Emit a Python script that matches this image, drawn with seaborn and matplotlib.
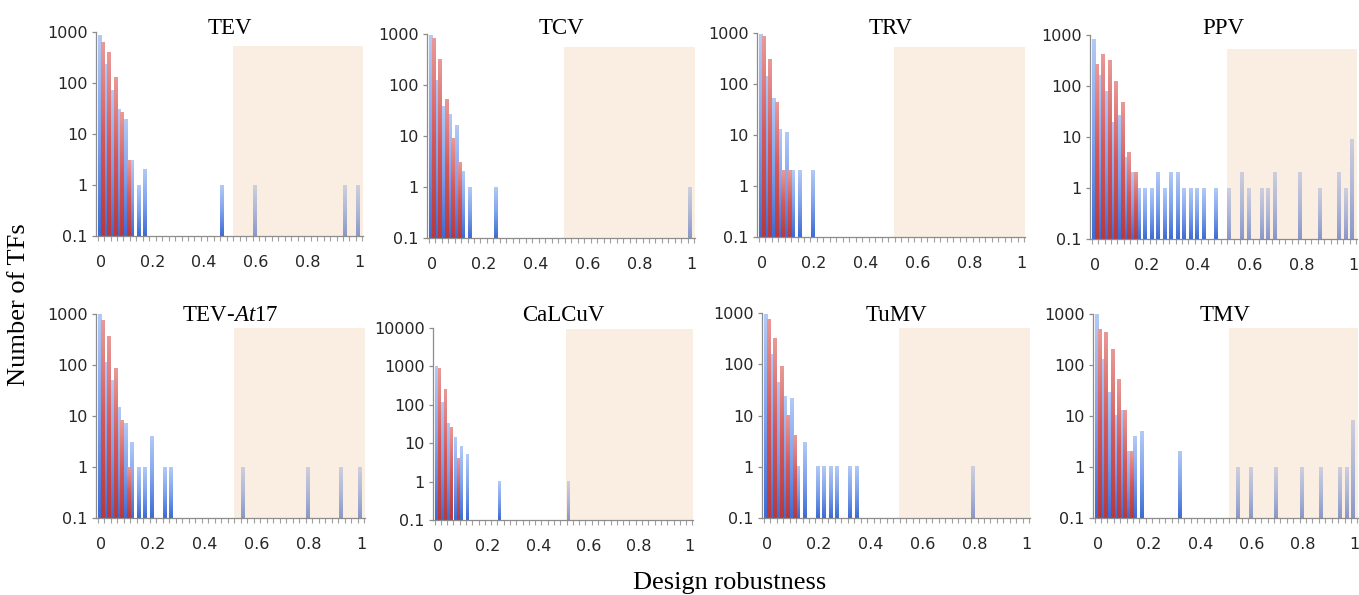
import numpy as np
import pandas as pd
import matplotlib
matplotlib.use("Agg")
import matplotlib.pyplot as plt
import seaborn as sns
from matplotlib.image import BboxImage
from matplotlib.transforms import Bbox, TransformedBbox
from matplotlib.colors import LinearSegmentedColormap, Normalize

# ---------------- data (41 robustness bins: 0, 0.025, ..., 1) ----------------
robustness = [f"{v:g}" for v in np.round(np.arange(41) * 0.025, 3)]

tev_blue = [850, 230, 72, 30, 19, 3, 1, 2, 0, 0, 0, 0, 0, 0, 0, 0, 0, 0, 0, 1,
            0, 0, 0, 0, 1, 0, 0, 0, 0, 0, 0, 0, 0, 0, 0, 0, 0, 0, 1, 0, 1]
tev_red = [636, 405, 127, 27, 3] + [0] * 36

tcv_blue = [950, 125, 38, 26, 16, 2, 1, 0, 0, 0, 1, 0, 0, 0, 0, 0, 0, 0, 0, 0,
            0, 0, 0, 0, 0, 0, 0, 0, 0, 0, 0, 0, 0, 0, 0, 0, 0, 0, 0, 0, 1]
tcv_red = [820, 310, 51, 9, 3] + [0] * 36

trv_blue = [950, 140, 51, 13, 11, 2, 2, 0, 2, 0, 0, 0, 0, 0, 0, 0, 0, 0, 0, 0,
            0, 0, 0, 0, 0, 0, 0, 0, 0, 0, 0, 0, 0, 0, 0, 0, 0, 0, 0, 0, 0]
trv_red = [860, 300, 43, 2, 2] + [0] * 36

ppv_blue = [820, 160, 78, 19, 26, 4, 2, 1, 1, 1, 2, 1, 2, 2, 1, 1, 1, 1, 0, 1,
            0, 1, 0, 2, 1, 0, 1, 1, 2, 0, 0, 0, 2, 0, 0, 1, 0, 0, 2, 1, 9]
ppv_red = [260, 410, 310, 125, 48, 5, 2] + [0] * 34

at17_blue = [980, 110, 50, 15, 7, 3, 1, 1, 4, 0, 1, 1, 0, 0, 0, 0, 0, 0, 0, 0,
             0, 0, 1, 0, 0, 0, 0, 0, 0, 0, 0, 0, 1, 0, 0, 0, 0, 1, 0, 0, 1]
at17_red = [740, 360, 85, 8, 1] + [0] * 36

calcuv_blue = [980, 115, 32, 14, 8, 5, 0, 0, 0, 0, 1, 0, 0, 0, 0, 0, 0, 0, 0, 0,
               0, 1, 0, 0, 0, 0, 0, 0, 0, 0, 0, 0, 0, 0, 0, 0, 0, 0, 0, 0, 0]
calcuv_red = [900, 245, 25, 4] + [0] * 37

tumv_blue = [930, 155, 45, 24, 21, 1, 3, 0, 1, 1, 1, 1, 0, 1, 1, 0, 0, 0, 0, 0,
             0, 0, 0, 0, 0, 0, 0, 0, 0, 0, 0, 0, 1, 0, 0, 0, 0, 0, 0, 0, 0]
tumv_red = [760, 315, 89, 10, 4] + [0] * 36

tmv_blue = [1000, 130, 29, 10, 13, 2, 4, 5, 0, 0, 0, 0, 0, 2, 0, 0, 0, 0, 0, 0,
            0, 0, 1, 0, 1, 0, 0, 0, 1, 0, 0, 0, 1, 0, 0, 1, 0, 0, 1, 1, 8]
tmv_red = [500, 430, 205, 51, 13, 2] + [0] * 35

titles = ["TEV", "TCV", "TRV", "PPV", "TEV-$\\mathit{At}$17", "CaLCuV", "TuMV", "TMV"]
blues = [tev_blue, tcv_blue, trv_blue, ppv_blue, at17_blue, calcuv_blue, tumv_blue, tmv_blue]
reds = [tev_red, tcv_red, trv_red, ppv_red, at17_red, calcuv_red, tumv_red, tmv_red]
y_tops = [1000, 1000, 1000, 1000, 1000, 10000, 1000, 1000]
x_tick_labels = ["0", "0.2", "0.4", "0.6", "0.8", "1"]

# ---------------- style ----------------
sns.set_theme(style="white")
plt.rcParams["font.family"] = ["DejaVu Sans"]
plt.rcParams["mathtext.fontset"] = "custom"
plt.rcParams["mathtext.rm"] = "Liberation Serif"
plt.rcParams["mathtext.it"] = "Liberation Serif:italic"

W, H = 1359, 595
fig = plt.figure(figsize=(W / 100, H / 100), dpi=100)
fig.patch.set_facecolor("white")

# axes boxes in pixels: left, right, top, bottom
boxes = [(96, 363, 32, 236), (427, 695, 34, 238), (757, 1025, 33, 237), (1090, 1357, 35, 239),
         (96, 365, 314, 518), (433, 693, 328, 520), (762, 1030, 313, 518), (1093, 1358, 314, 518)]
title_base = [34, 34, 34, 34, 321, 321, 321, 321]
shade_frac = [0.93, 0.935, 0.93, 0.93, 0.933, 0.995, 0.927, 0.933]

blue_cmap = LinearSegmentedColormap.from_list("bl", ["#3d6bd3", "#7fa2ec", "#b3caf6"])
red_cmap = LinearSegmentedColormap.from_list("rd", ["#b63a3d", "#d2585a", "#e99a98"])
grad = np.linspace(0, 1, 256).reshape(-1, 1)
axis_gray = "#8c8c8c"

for k in range(8):
    l, r, t, b = boxes[k]
    ax = fig.add_axes([l / W, 1 - b / H, (r - l) / W, (b - t) / H])
    df = pd.DataFrame({
        "robustness": robustness * 2,
        "count": list(blues[k]) + list(reds[k]),
        "series": ["TFs"] * 41 + ["Designs"] * 41,
    })
    sns.barplot(data=df, x="robustness", y="count", hue="series", order=robustness,
                hue_order=["TFs", "Designs"], palette=["#7fa2ec", "#d2585a"],
                width=0.94, saturation=1, linewidth=0, legend=False, ax=ax, zorder=2)
    ax.set_yscale("log")
    ymax = y_tops[k]
    ax.set_ylim(0.1, ymax)
    ax.set_xlim(-0.75, 40.6)

    # gradient fill for each bar
    for cont, cmap in zip(ax.containers, [blue_cmap, red_cmap]):
        for p in cont.patches:
            h = p.get_height()
            if not np.isfinite(h) or h <= 0.1:
                continue
            x0 = p.get_x()
            x1 = x0 + p.get_width()
            tb = TransformedBbox(Bbox([[x0, 0.1], [x1, h]]), ax.transData)
            im = BboxImage(tb, cmap=cmap, norm=Normalize(0, 1), interpolation="bilinear",
                           origin="lower")
            im.set_data(grad)
            im.set_zorder(2.5)
            im.set_clip_path(ax.patch)
            ax.add_artist(im)

    # shaded region (robustness > 0.5)
    ax.axvspan(20.4, 40.6, ymin=0, ymax=shade_frac[k], color="#f4d6bb", alpha=0.42,
               lw=0, zorder=4)

    # axes styling
    for s in ["top", "right"]:
        ax.spines[s].set_visible(False)
    for s in ["left", "bottom"]:
        ax.spines[s].set_color(axis_gray)
        ax.spines[s].set_linewidth(0.9)
        ax.spines[s].set_zorder(6)
    yt = [0.1, 1, 10, 100, 1000] + ([10000] if ymax > 1000 else [])
    ax.set_yticks(yt)
    ax.set_yticklabels([f"{v:g}" for v in yt])
    ax.yaxis.set_minor_locator(matplotlib.ticker.NullLocator())
    ax.tick_params(axis="y", which="major", direction="out", length=3, width=0.9,
                   color=axis_gray, pad=3, labelsize=11.5, left=True)
    ax.set_xticks([0, 8, 16, 24, 32, 40])
    ax.set_xticklabels(x_tick_labels)
    ax.set_xticks(np.arange(-0.5, 41, 1.0), minor=True)
    ax.tick_params(axis="x", which="major", length=0, pad=14, labelsize=11.5)
    ax.tick_params(axis="x", which="minor", direction="out", length=3.5, width=0.8,
                   color="#a0a0a0", bottom=True)
    ax.set_xlabel("")
    ax.set_ylabel("")
    ax.set_facecolor("white")

    fig.text((l + r) / 2 / W, 1 - title_base[k] / H, titles[k], ha="center", va="baseline",
             family="Liberation Serif", fontsize=16.5, color="black")

fig.text(19 / W, 1 - 305 / H, "Number of TFs", rotation=90, ha="center", va="center",
         family="Liberation Serif", fontsize=19, color="black")
fig.text(730 / W, 1 - 589 / H, "Design robustness", ha="center", va="baseline",
         family="Liberation Serif", fontsize=19, color="black")

fig.savefig("out.png", dpi=100, facecolor="white")
